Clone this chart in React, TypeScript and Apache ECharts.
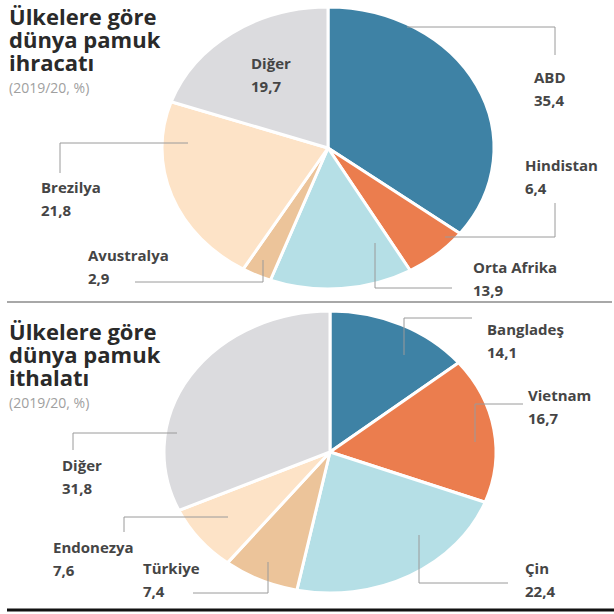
import React, { useEffect, useRef } from "react";
import * as echarts from "echarts";

// ---- Data ----
const exportNames = ["ABD", "Hindistan", "Orta Afrika", "Avustralya", "Brezilya", "Diğer"];
const exportValues = [35.4, 6.4, 13.9, 2.9, 21.8, 19.7];
const importNames = ["Bangladeş", "Vietnam", "Çin", "Türkiye", "Endonezya", "Diğer"];
const importValues = [14.1, 16.7, 22.4, 7.4, 7.6, 31.8];
const exportTitle = ["Ülkelere göre", "dünya pamuk", "ihracatı"];
const importTitle = ["Ülkelere göre", "dünya pamuk", "ithalatı"];
const subTitle = "(2019/20, %)";

// ---- Styles / layout ----
const sliceColors = ["#3e82a5", "#eb7d4e", "#b5dfe6", "#ecc49a", "#fde3c7", "#dbdbde"];

type LabelLayout = { label: [number, number]; line: [number, number][] | null };

const exportPie = { cx: 328, cy: 148, rx: 166, ry: 141 };
const importPie = { cx: 330, cy: 452, rx: 166, ry: 141 };

const exportLabelLayout: LabelLayout[] = [
  { label: [534, 77], line: [[407, 27], [555, 27], [555, 55]] },
  { label: [525, 165], line: [[445, 237], [555, 237], [555, 203]] },
  { label: [473, 267], line: [[375, 243], [375, 288], [452, 288]] },
  { label: [88, 255], line: [[263, 260], [263, 282], [135, 282]] },
  { label: [41, 187], line: [[188, 143], [60, 143], [60, 173]] },
  { label: [251, 63], line: null },
];

const importLabelLayout: LabelLayout[] = [
  { label: [487, 329], line: [[404, 355], [404, 318], [472, 318]] },
  { label: [528, 395], line: [[475, 442], [475, 404], [523, 404]] },
  { label: [525, 568], line: [[419, 535], [419, 583], [508, 583]] },
  { label: [143, 568], line: [[268, 562], [268, 593], [193, 593]] },
  { label: [53, 547], line: [[228, 517], [124, 517], [124, 532]] },
  { label: [62, 465], line: [[177, 433], [73, 433], [73, 450]] },
];

const FONT = "'Open Sans', 'Noto Sans', sans-serif";
const LABEL_LH = 23;

function fmt(v: number) {
  return v.toFixed(1).replace(".", ",");
}

function makeRender(
  names: string[],
  values: number[],
  geo: { cx: number; cy: number; rx: number; ry: number },
  layout: LabelLayout[]
) {
  return (params: any, api: any) => {
    const i = params.dataIndex;
    const total = values.reduce((a, b) => a + b, 0);
    let before = 0;
    for (let k = 0; k < i; k++) before += values[k];
    const v = api.value(0);
    const a0 = (before / total) * Math.PI * 2;
    const a1 = ((before + v) / total) * Math.PI * 2;
    const { cx, cy, rx, ry } = geo;
    const x0 = cx + rx * Math.sin(a0);
    const y0 = cy - ry * Math.cos(a0);
    const x1 = cx + rx * Math.sin(a1);
    const y1 = cy - ry * Math.cos(a1);
    const large = a1 - a0 > Math.PI ? 1 : 0;
    const d = `M${cx} ${cy} L${x0} ${y0} A${rx} ${ry} 0 ${large} 1 ${x1} ${y1} Z`;
    const children: any[] = [
      {
        type: "path",
        shape: { pathData: d },
        style: { fill: sliceColors[i], stroke: "#ffffff", lineWidth: 3, lineJoin: "round" },
      },
    ];
    const lay = layout[i];
    if (lay.line) {
      children.push({
        type: "polyline",
        shape: { points: lay.line },
        style: { stroke: "#9a9a9a", lineWidth: 1, fill: null },
        z2: 5,
      });
    }
    children.push({
      type: "text",
      x: lay.label[0],
      y: lay.label[1] - LABEL_LH / 2,
      z2: 10,
      style: {
        text: names[i] + "\n" + fmt(v),
        fill: "#454545",
        font: `bold 15px ${FONT}`,
        lineHeight: LABEL_LH,
        align: "left",
        verticalAlign: "top",
      },
    });
    return { type: "group", children };
  };
}

function titleBlock(lines: string[], top: number) {
  const els: any[] = lines.map((t, k) => ({
    type: "text",
    x: 9,
    y: top + k * 23,
    style: {
      text: t,
      font: `bold 22px ${FONT}`,
      fill: "#2a2a2a",
      verticalAlign: "middle",
    },
  }));
  els.push({
    type: "text",
    x: 9,
    y: top + 3 * 23 + 2,
    style: { text: subTitle, font: `14px ${FONT}`, fill: "#a0a0a0", verticalAlign: "middle" },
  });
  return els;
}

export default function App() {
  const ref = useRef<HTMLDivElement>(null);
  useEffect(() => {
    if (!ref.current) return;
    const chart = echarts.init(ref.current, undefined, { renderer: "svg" });
    chart.setOption({
      animation: false,
      backgroundColor: "#ffffff",
      graphic: [
        ...titleBlock(exportTitle, 16),
        ...titleBlock(importTitle, 331),
        {
          type: "line",
          shape: { x1: 7, y1: 302, x2: 612, y2: 302 },
          style: { stroke: "#a8a8a8", lineWidth: 2 },
        },
        {
          type: "line",
          shape: { x1: 7, y1: 610, x2: 614, y2: 610 },
          style: { stroke: "#111111", lineWidth: 3 },
        },
      ],
      series: [
        {
          type: "custom",
          coordinateSystem: "none",
          data: exportValues.map((v) => [v]),
          renderItem: makeRender(exportNames, exportValues, exportPie, exportLabelLayout),
        },
        {
          type: "custom",
          coordinateSystem: "none",
          data: importValues.map((v) => [v]),
          renderItem: makeRender(importNames, importValues, importPie, importLabelLayout),
        },
      ],
    });
    return () => chart.dispose();
  }, []);
  return (
    <div
      ref={ref}
      style={{ position: "fixed", left: 0, top: 0, width: 614, height: 614 }}
    />
  );
}
